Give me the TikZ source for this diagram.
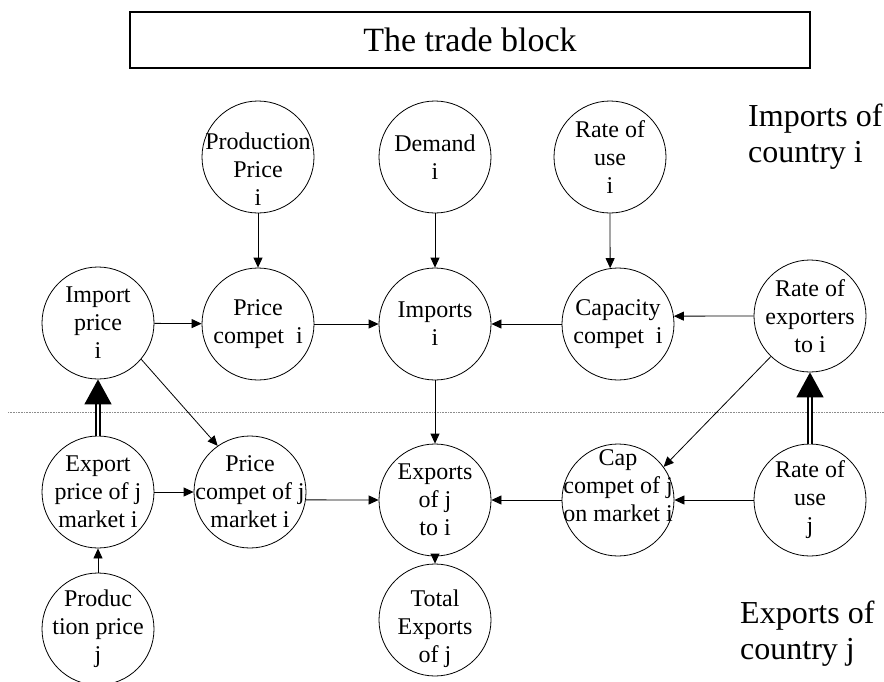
\documentclass[tikz,border=0pt]{standalone}
\usepackage{fontspec}
\setmainfont{Liberation Serif}
\usetikzlibrary{arrows.meta}
\definecolor{sepgray}{HTML}{8C8C8C}

\begin{document}
\begin{tikzpicture}[x=1pt,y=-1pt,
  var/.style={circle,draw,line width=0.8pt,minimum size=112pt,inner sep=0pt},
  vtxt/.style={align=center,font=\fontsize{24}{28}\selectfont,inner sep=0pt},
  lnk/.style={line width=0.8pt,-{Triangle[length=10pt,width=9pt]}},
  bigarr/.style={double,double distance=2.4pt,line width=1.5pt,-{Triangle[length=25pt,width=27pt]}},
  side/.style={align=left,font=\fontsize{32}{36}\selectfont,anchor=north west,inner sep=0pt}]
  \useasboundingbox (0,0) rectangle (884,681);
  \node[draw,line width=1.2pt,minimum width=680pt,minimum height=56pt,font=\fontsize{34}{38}\selectfont] (title) at (470,40) {The trade block};
  \draw[sepgray,densely dotted,line width=0.6pt] (8,412) -- (884,412);
  \node[side] (impl) at (748,104) {Imports of\\country i};
  \node[side] (expl) at (740,601) {Exports of\\country j};

  \node[var,label={[vtxt,yshift=-12pt]center:Production\\Price\\i}] (ppi) at (258,157) {};
  \node[var,label={[vtxt]center:Demand\\i}] (dmi) at (435,157) {};
  \node[var,label={[vtxt]center:Rate of\\use\\i}] (rui) at (610,157) {};
  \node[var,label={[vtxt]center:Import\\price\\i}] (ipi) at (98,323) {};
  \node[var,label={[vtxt]center:Price\\compet\ \ i}] (pci) at (258,324) {};
  \node[var,label={[vtxt]center:Imports\\i}] (imp) at (435,324) {};
  \node[var,label={[vtxt]center:Capacity\\compet\ \ i}] (cap) at (618,324) {};
  \node[var,label={[vtxt]center:Rate of\\exporters\\to i}] (roe) at (810,316) {};
  \node[var,label={[vtxt]center:Export\\price of j\\market i}] (epj) at (98,492) {};
  \node[var,label={[vtxt]center:Price\\compet of j\\market i}] (pcj) at (250,492) {};
  \node[var,label={[vtxt]center:Exports\\of j\\to i}] (exj) at (435,500) {};
  \node[var,label={[vtxt,yshift=14pt]center:Cap\\compet of j\\on market i}] (ccj) at (618,500) {};
  \node[var,label={[vtxt]center:Rate of\\use\\j}] (ruj) at (810,500) {};
  \node[var,label={[vtxt]center:Produc\\tion price\\j}] (ppj) at (98,629) {};
  \node[var,label={[vtxt,yshift=-9pt]center:Total\\Exports\\of j}] (tej) at (435,620) {};

  \draw[lnk] (ppi) -- (pci);
  \draw[lnk] (dmi) -- (imp);
  \draw[lnk] (rui.south) -- (cap.98);
  \draw[lnk] (ipi) -- (pci);
  \draw[lnk] (pci) -- (imp);
  \draw[lnk] (cap) -- (imp);
  \draw[lnk] (roe.west) -- (cap.8);
  \draw[lnk] (ipi.-40) -- (pcj.125);
  \draw[lnk] (imp) -- (exj);
  \draw[lnk] (roe.226) -- (ccj.36);
  \draw[lnk] (epj) -- (pcj);
  \draw[lnk] (pcj.-8) -- (exj.west);
  \draw[lnk] (ccj) -- (exj);
  \draw[lnk] (ruj) -- (ccj);
  \draw[lnk] (ppj) -- (epj);
  \draw[lnk] (exj) -- (tej);
  \draw[bigarr] (epj) -- (ipi);
  \draw[bigarr] (ruj) -- (roe);
\end{tikzpicture}
\end{document}
